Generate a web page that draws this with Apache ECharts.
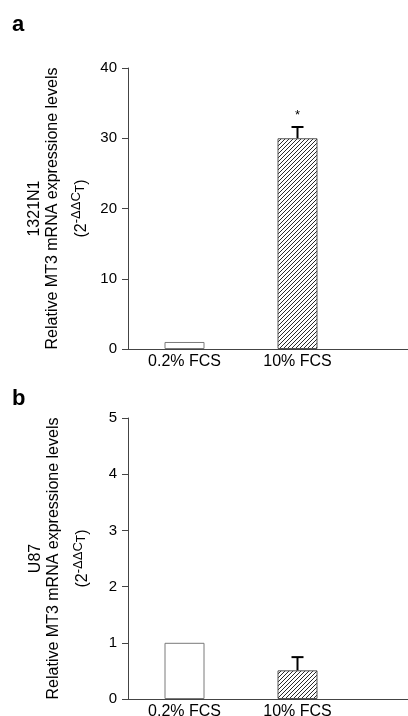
<!DOCTYPE html>
<html><head><meta charset="utf-8">
<script src="https://cdn.jsdelivr.net/npm/echarts@6/dist/echarts.min.js"></script>
<style>html,body{margin:0;padding:0;background:#fff}#c{width:408px;height:716px}</style>
</head><body><div id="c"></div>
<script>
// ---- data ----
const categories = ['0.2% FCS', '10% FCS', ''];
const panelLabels = ['a', 'b'];
const cellLines = ['1321N1', 'U87'];
const valuesA = [1.0, 30.0];
const errHighA = [null, 31.6];
const sigA = ['', '*'];
const valuesB = [1.0, 0.51];
const errHighB = [null, 0.745];
const sigB = ['', ''];
const yMaxA = 40, yStepA = 10;
const yMaxB = 5, yStepB = 1;

// ---- styling helpers ----
const FONT = 'Liberation Sans, Arial, sans-serif';
const AXIS = '#444';
const pc = document.createElement('canvas');
pc.width = 4; pc.height = 4;
const pctx = pc.getContext('2d');
pctx.fillStyle = '#fff'; pctx.fillRect(0, 0, 4, 4);
pctx.fillStyle = '#2a2a2a';
for (let i = 0; i < 4; i++) pctx.fillRect(3 - i, i, 1, 1);
const hatch = { image: pc, repeat: 'repeat' };

function barData(vals) {
  return vals.map((v, i) => ({
    value: v,
    itemStyle: i === 0
      ? { color: '#fff', borderColor: '#7a7a7a', borderWidth: 1 }
      : { color: hatch, borderColor: '#555', borderWidth: 1 }
  }));
}
function errData(vals, highs) {
  const out = [];
  highs.forEach((h, i) => { if (h != null) out.push([i, h, vals[i]]); });
  return out;
}
function errRender(sigs) {
  return function (params, api) {
    const i = api.value(0);
    const top = api.coord([i, api.value(1)]);
    const bot = api.coord([i, api.value(2)]);
    const cx = top[0];
    const children = [
      { type: 'line', shape: { x1: cx, y1: bot[1], x2: cx, y2: top[1] }, style: { stroke: '#000', lineWidth: 2 } },
      { type: 'line', shape: { x1: cx - 6, y1: top[1], x2: cx + 6, y2: top[1] }, style: { stroke: '#000', lineWidth: 2 } }
    ];
    const s = sigs[i];
    if (s) children.push({ type: 'text', style: { x: cx, y: top[1] - 5, text: s, align: 'center', verticalAlign: 'bottom', font: '13px ' + FONT, fill: '#000' } });
    return { type: 'group', children };
  };
}
const rich = {
  a: { fontSize: 16, lineHeight: 18, fontFamily: FONT, color: '#000' },
  sp: { fontSize: 4, lineHeight: 10, fontFamily: FONT, color: '#000' },
  b: { fontSize: 16, lineHeight: 18, verticalAlign: 'bottom', fontFamily: FONT, color: '#000' },
  sup: { fontSize: 13, lineHeight: 14, padding: [0, 0, 6, 0], verticalAlign: 'bottom', fontFamily: FONT, color: '#000' },
  sub: { fontSize: 12, lineHeight: 13, padding: [0, 0, 3, 0], verticalAlign: 'bottom', fontFamily: FONT, color: '#000' }
};
function yName(cell) {
  return '{a|' + cell + '}\n{a|Relative MT3 mRNA expressione levels}\n{sp| }\n{b|(2}{sup|-ΔΔC}{sub|T}{b|)}';
}
function yAxis(gi, max, step, cell) {
  return {
    gridIndex: gi, type: 'value', min: 0, max: max, interval: step,
    name: yName(cell), nameLocation: 'middle', nameRotate: 90, nameGap: 37,
    nameTextStyle: { rich: rich, fontFamily: FONT },
    axisLine: { show: true, lineStyle: { color: AXIS, width: 1 } },
    axisTick: { show: true, inside: false, length: 6, lineStyle: { color: AXIS } },
    axisLabel: { margin: 11, fontSize: 15, color: '#000', fontFamily: FONT },
    splitLine: { show: false }
  };
}
function xAxis(gi) {
  return {
    gridIndex: gi, type: 'category', data: categories, boundaryGap: true,
    axisLine: { show: true, lineStyle: { color: AXIS, width: 1 } },
    axisTick: { show: false },
    axisLabel: { margin: 5, fontSize: 16, color: '#000', fontFamily: FONT, interval: 0 },
    splitLine: { show: false }
  };
}

const chart = echarts.init(document.getElementById('c'), null, { renderer: 'canvas' });
chart.setOption({
  animation: false,
  backgroundColor: '#fff',
  grid: [
    { left: 128, top: 68, width: 339, height: 281, outerBoundsMode: 'none', containLabel: false },
    { left: 128, top: 418, width: 339, height: 281, outerBoundsMode: 'none', containLabel: false }
  ],
  xAxis: [xAxis(0), xAxis(1)],
  yAxis: [yAxis(0, yMaxA, yStepA, cellLines[0]), yAxis(1, yMaxB, yStepB, cellLines[1])],
  graphic: [
    { type: 'text', left: 12, top: 14, style: { text: panelLabels[0], font: 'bold 22px ' + FONT, fill: '#000' } },
    { type: 'text', left: 12, top: 388, style: { text: panelLabels[1], font: 'bold 22px ' + FONT, fill: '#000' } }
  ],
  series: [
    { type: 'bar', xAxisIndex: 0, yAxisIndex: 0, barWidth: 40, data: barData(valuesA) },
    { type: 'bar', xAxisIndex: 1, yAxisIndex: 1, barWidth: 40, data: barData(valuesB) },
    { type: 'custom', xAxisIndex: 0, yAxisIndex: 0, z: 5, clip: false, renderItem: errRender(sigA), data: errData(valuesA, errHighA) },
    { type: 'custom', xAxisIndex: 1, yAxisIndex: 1, z: 5, clip: false, renderItem: errRender(sigB), data: errData(valuesB, errHighB) }
  ]
});
</script></body></html>
